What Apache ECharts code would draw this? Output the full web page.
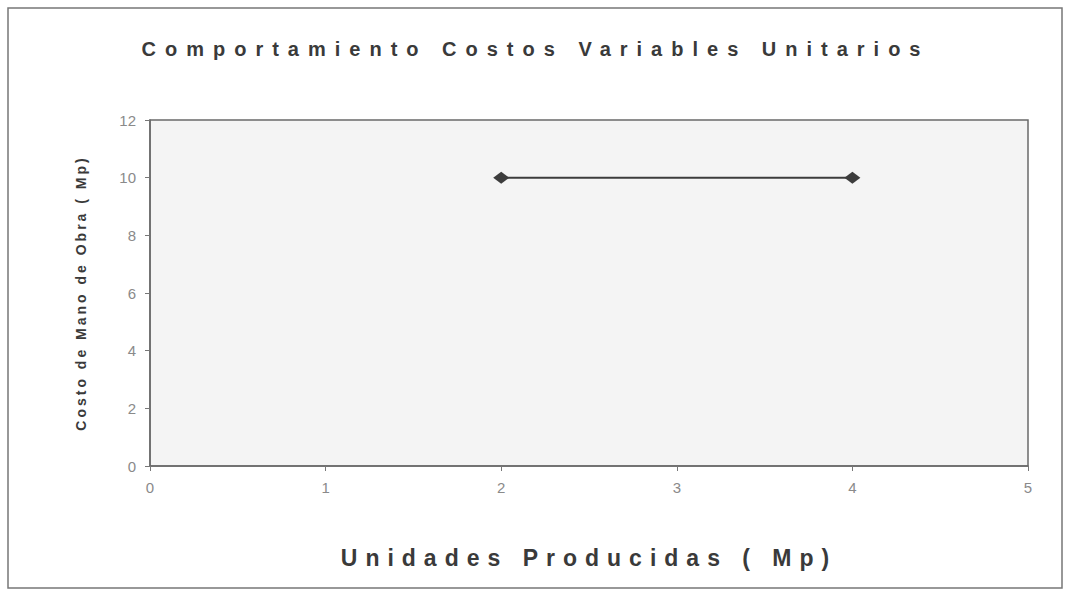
<!DOCTYPE html>
<html>
<head>
<meta charset="utf-8">
<script src="https://cdn.jsdelivr.net/npm/echarts@6/dist/echarts.min.js"></script>
<style>
  html, body { margin: 0; padding: 0; background: #fff; }
  #main { width: 1071px; height: 594px; }
</style>
</head>
<body>
<div id="main"></div>
<script>
  // datos
  const titulo = 'Comportamiento Costos Variables Unitarios';
  const nombreX = 'Unidades Producidas ( Mp)';
  const nombreY = 'Costo de Mano de Obra ( Mp)';
  const unidades = [2, 4];        // eje x
  const costoUnitario = [10, 10]; // eje y
  const ejeX = { min: 0, max: 5, interval: 1 };
  const ejeY = { min: 0, max: 12, interval: 2 };

  const puntos = unidades.map((u, i) => [u, costoUnitario[i]]);

  var myChart = echarts.init(document.getElementById('main'), null, { renderer: 'svg' });

  var option = {
    backgroundColor: '#fff',
    animation: false,
    title: {
      text: titulo,
      left: 'center',
      top: 34,
      textStyle: { fontFamily: 'Liberation Sans', fontWeight: 'bold', fontSize: 20, color: '#3a3a3a' }
    },
    grid: {
      left: 150, right: 43, top: 120, bottom: 128,
      show: true,
      backgroundColor: '#f4f4f4',
      borderColor: '#6a6a6a',
      borderWidth: 1.5
    },
    xAxis: {
      type: 'value',
      min: ejeX.min, max: ejeX.max, interval: ejeX.interval,
      name: nombreX,
      nameLocation: 'middle',
      nameGap: 80,
      nameTextStyle: { fontFamily: 'Liberation Sans', fontWeight: 'bold', fontSize: 23, color: '#3a3a3a' },
      axisLine: { lineStyle: { color: '#6a6a6a', width: 1.5 } },
      axisTick: { show: true, length: 5, lineStyle: { color: '#777' } },
      axisLabel: { color: '#8a8a8a', fontSize: 15, fontFamily: 'Liberation Sans', margin: 14 },
      splitLine: { show: false }
    },
    yAxis: {
      type: 'value',
      min: ejeY.min, max: ejeY.max, interval: ejeY.interval,
      name: nombreY,
      nameLocation: 'middle',
      nameGap: 62,
      nameTextStyle: { fontFamily: 'Liberation Sans', fontWeight: 'bold', fontSize: 14, color: '#3a3a3a' },
      axisLine: { show: true, lineStyle: { color: '#6a6a6a', width: 1.5 } },
      axisTick: { show: true, length: 5, lineStyle: { color: '#777' } },
      axisLabel: { color: '#8a8a8a', fontSize: 15, fontFamily: 'Liberation Sans', margin: 14 },
      splitLine: { show: false }
    },
    graphic: [{
      type: 'rect',
      shape: { x: 8, y: 8, width: 1054, height: 580 },
      style: { fill: 'none', stroke: '#777', lineWidth: 1.5 },
      silent: true
    }],
    series: [{
      type: 'line',
      data: puntos,
      symbol: 'diamond',
      symbolSize: [16, 12],
      itemStyle: { color: '#3c3c3c' },
      lineStyle: { color: '#3c3c3c', width: 2 }
    }]
  };

  myChart.setOption(option);

  // espaciado de letras como en el original
  function espaciar() {
    document.querySelectorAll('#main svg text').forEach(function (t) {
      var s = t.textContent;
      if (s === titulo) t.style.letterSpacing = '9px';
      else if (s === nombreX) t.style.letterSpacing = '8px';
      else if (s === nombreY) t.style.letterSpacing = '3px';
    });
  }
  espaciar();
  myChart.on('finished', espaciar);
</script>
</body>
</html>
